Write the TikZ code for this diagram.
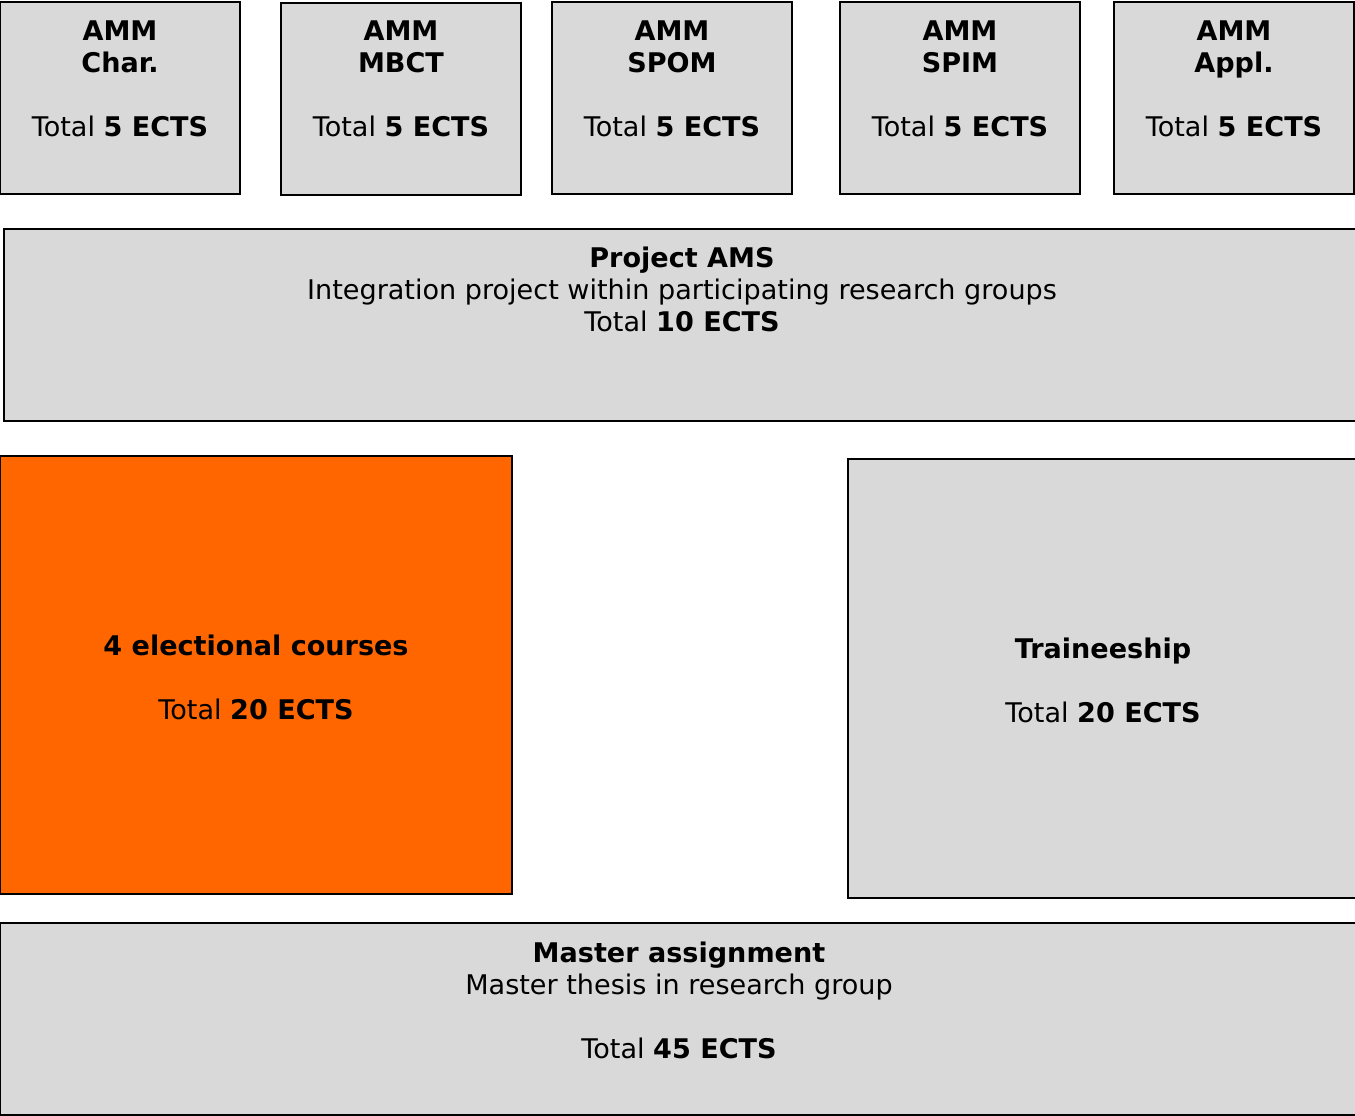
\documentclass[tikz,border=0pt]{standalone}
\usepackage{fontspec}
\setmainfont{DejaVu Sans}
\definecolor{boxgray}{HTML}{D9D9D9}
\definecolor{boxorange}{HTML}{FF6600}
\begin{document}
\begin{tikzpicture}[x=0.75pt,y=-0.75pt,
  box/.style={draw=black,line width=1.5pt,fill=boxgray},
  obox/.style={draw=black,line width=1.5pt,fill=boxorange},
  lbl/.style={align=center,inner sep=0pt,anchor=north,font=\fontsize{20.3}{24}\selectfont}]
\useasboundingbox (0,0) rectangle (1355,1116);
\begin{scope}
\clip (0,0) rectangle (1355,1116);
\path[box] (0,2) rectangle (240,194) coordinate (b1);
\path[box] (281,3) rectangle (521,195) coordinate (b2);
\path[box] (552,2) rectangle (792,194) coordinate (b3);
\path[box] (840,2) rectangle (1080,194) coordinate (b4);
\path[box] (1114,2) rectangle (1354,194) coordinate (b5);
\path[box] (4,229) rectangle (1370,421) coordinate (proj);
\path[obox] (0,456) rectangle (512,894) coordinate (elec);
\path[box] (848,459) rectangle (1370,898) coordinate (train);
\path[box] (0,923) rectangle (1370,1115) coordinate (master);
\end{scope}
\node[lbl] (t1) at (120,20.5) {\textbf{AMM}\\\textbf{Char.}\\[24pt]Total \textbf{5 ECTS}};
\node[lbl] (t2) at (401,20.5) {\textbf{AMM}\\\textbf{MBCT}\\[24pt]Total \textbf{5 ECTS}};
\node[lbl] (t3) at (672,20.5) {\textbf{AMM}\\\textbf{SPOM}\\[24pt]Total \textbf{5 ECTS}};
\node[lbl] (t4) at (960,20.5) {\textbf{AMM}\\\textbf{SPIM}\\[24pt]Total \textbf{5 ECTS}};
\node[lbl] (t5) at (1234,20.5) {\textbf{AMM}\\\textbf{Appl.}\\[24pt]Total \textbf{5 ECTS}};
\node[lbl] (tp) at (682,246.5) {\textbf{Project AMS}\\Integration project within participating research groups\\Total \textbf{10 ECTS}};
\node[lbl] (te) at (256,634.5) {\textbf{4 electional courses}\\[24pt]Total \textbf{20 ECTS}};
\node[lbl] (tt) at (1103,637.5) {\textbf{Traineeship}\\[24pt]Total \textbf{20 ECTS}};
\node[lbl] (tm) at (679,941.5) {\textbf{Master assignment}\\Master thesis in research group\\[24pt]Total \textbf{45 ECTS}};
\end{tikzpicture}
\end{document}
